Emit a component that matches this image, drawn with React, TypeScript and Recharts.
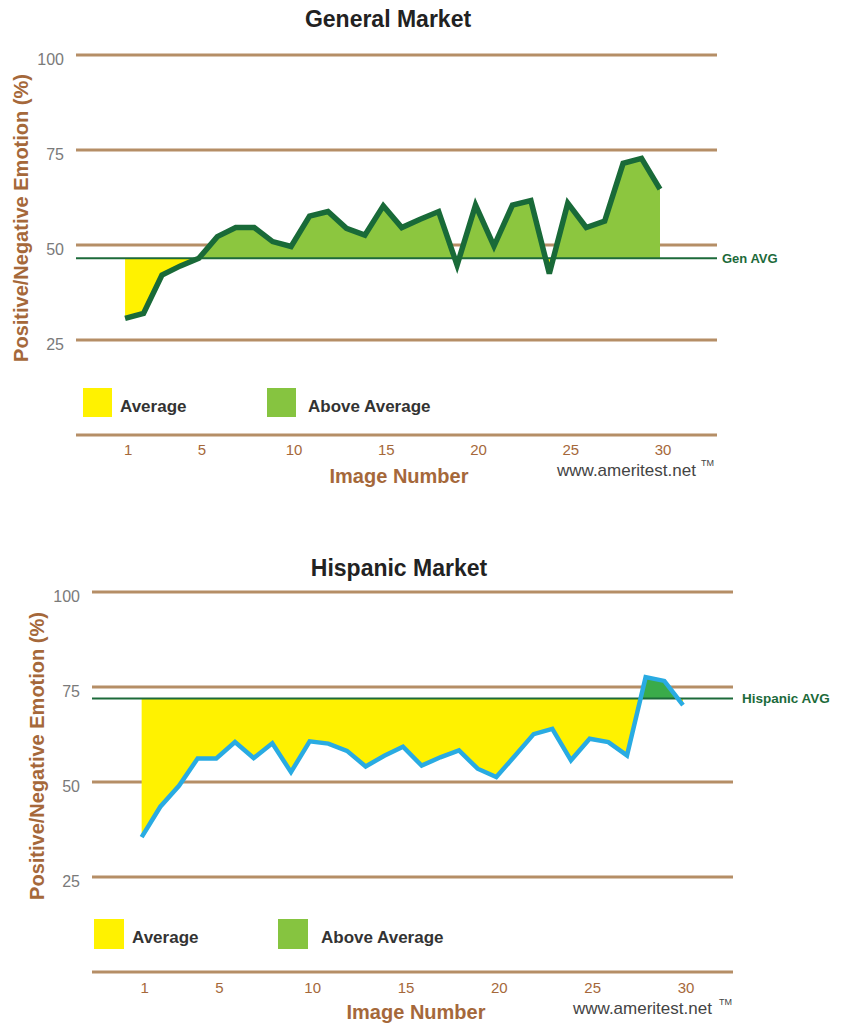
import { ComposedChart, Area, Line, XAxis, YAxis, CartesianGrid, ReferenceLine } from "recharts";

// image numbers along the x axis
const IMAGE_NUMBERS = [
  1, 2, 3, 4, 5, 6, 7, 8, 9, 10, 11, 12, 13, 14, 15,
  16, 17, 18, 19, 20, 21, 22, 23, 24, 25, 26, 27, 28, 29, 30,
];

// Positive/Negative emotion (%) per image
const GENERAL_MARKET = [
  30.7, 32.0, 42.1, 44.5, 46.5, 52.2, 54.6, 54.6, 50.9, 49.6,
  57.6, 58.8, 54.4, 52.6, 60.3, 54.6, 56.8, 58.8, 44.7, 60.5,
  49.7, 60.5, 61.7, 42.5, 61.0, 54.6, 56.3, 71.5, 72.8, 64.7,
];
const HISPANIC_MARKET = [
  35.5, 43.5, 49.0, 56.2, 56.2, 60.5, 56.3, 60.2, 52.6, 60.7,
  60.1, 58.2, 54.1, 56.9, 59.3, 54.3, 56.5, 58.3, 53.5, 51.3,
  56.9, 62.6, 64.0, 55.7, 61.4, 60.5, 57.0, 77.6, 76.6, 70.2,
];

const GEN_AVG = 46.5;
const HISPANIC_AVG = 72;

const X_TICKS = [1, 5, 10, 15, 20, 25, 30];
const Y_TICKS = [0, 25, 50, 75, 100];

const FONT = '"Liberation Sans", Arial, sans-serif';
const BROWN = "#a5683a";
const GRID = "#b58e66";
const AVG_GREEN = "#1c6a3a";
const YELLOW = "#fff200";
const LEGEND_GREEN = "#86c440";

const YTick = ({ x, y, payload }: any) => {
  if (payload.value === 0) return <g />;
  return (
    <text x={x} y={y + 4} dy="0.355em" textAnchor="end" fill="#7a7a7a" fontSize={16} fontFamily={FONT}>
      {payload.value}
    </text>
  );
};

const XTick = ({ x, y, payload }: any) => (
  <text x={x + 3} y={y} dy="0.71em" textAnchor="middle" fill={BROWN} fontSize={15} fontFamily={FONT}>
    {payload.value}
  </text>
);

const Txt = ({ x, y, center, rotate, style, children }: any) => (
  <div
    style={{
      position: "absolute",
      left: x,
      top: y,
      whiteSpace: "nowrap",
      fontFamily: FONT,
      lineHeight: 1,
      transform: `translate(${center ? "-50%" : "0"}, -50%)${rotate ? " rotate(-90deg)" : ""}`,
      ...style,
    }}
  >
    {children}
  </div>
);

const Panel = (p: any) => {
  const data = IMAGE_NUMBERS.map((n, i) => ({ n, v: p.values[i] }));
  const hi = Math.max(...p.values, p.avg);
  const lo = Math.min(...p.values, p.avg);
  const split = (hi - p.avg) / (hi - lo);
  const h = p.height;
  return (
    <div style={{ position: "absolute", left: 0, top: p.top, width: 847, height: h }}>
      <ComposedChart
        width={847}
        height={h}
        data={data}
        margin={{ top: p.plotTop, right: 847 - p.plotRight, left: 0, bottom: h - p.plotBottom - 40 }}
      >
        <defs>
          <linearGradient id={`split-${p.id}`} x1="0" y1="0" x2="0" y2="1">
            <stop offset={0} stopColor={p.aboveColor} />
            <stop offset={split} stopColor={p.aboveColor} />
            <stop offset={split} stopColor={YELLOW} />
            <stop offset={1} stopColor={YELLOW} />
          </linearGradient>
        </defs>
        <CartesianGrid vertical={false} stroke={GRID} strokeWidth={3} />
        <XAxis
          type="number"
          dataKey="n"
          domain={p.xDomain}
          ticks={X_TICKS}
          interval={0}
          allowDataOverflow
          axisLine={false}
          tickLine={false}
          tickSize={0}
          tickMargin={p.tickGap}
          tick={<XTick />}
          height={40}
        />
        <YAxis
          type="number"
          domain={[0, 100]}
          ticks={Y_TICKS}
          interval={0}
          axisLine={false}
          tickLine={false}
          tickSize={0}
          tickMargin={12}
          tick={<YTick />}
          width={p.plotLeft}
        />
        <Area
          type="linear"
          dataKey="v"
          baseValue={p.avg}
          stroke="none"
          fill={`url(#split-${p.id})`}
          fillOpacity={1}
          isAnimationActive={false}
        />
        <ReferenceLine
          y={p.avg}
          stroke={AVG_GREEN}
          strokeWidth={2}
          ifOverflow="visible"
          label={{
            value: p.avgLabel,
            position: "right",
            offset: p.labelOffset,
            fill: AVG_GREEN,
            fontSize: p.labelSize,
            fontWeight: 700,
            fontFamily: FONT,
          }}
        />
        <Line
          type="linear"
          dataKey="v"
          stroke={p.lineColor}
          strokeWidth={p.lineWidth}
          dot={false}
          activeDot={false}
          isAnimationActive={false}
        />
      </ComposedChart>
    </div>
  );
};

export default function App() {
  return (
    <div style={{ position: "absolute", left: 0, top: 0, width: 847, height: 1024, background: "#fff" }}>
      <Panel
        id="gen"
        top={0}
        height={500}
        values={GENERAL_MARKET}
        avg={GEN_AVG}
        avgLabel="Gen AVG"
        labelSize={13}
        labelOffset={5}
        lineColor="#196a38"
        lineWidth={5.5}
        aboveColor="#8cc63f"
        plotLeft={76}
        plotRight={717}
        plotTop={55}
        plotBottom={435}
        xDomain={[-1.66, 33.09]}
        tickGap={9}
      />
      <Panel
        id="his"
        top={500}
        height={524}
        values={HISPANIC_MARKET}
        avg={HISPANIC_AVG}
        avgLabel="Hispanic AVG"
        labelSize={13.5}
        labelOffset={9}
        lineColor="#29abe2"
        lineWidth={4.5}
        aboveColor="#3aab4a"
        plotLeft={92}
        plotRight={733}
        plotTop={92}
        plotBottom={472}
        xDomain={[-1.66, 32.68]}
        tickGap={10}
      />

      {/* General Market texts */}
      <Txt x={388} y={19} center style={{ fontSize: 23, fontWeight: 700, color: "#222" }}>General Market</Txt>
      <Txt x={21} y={218} center rotate style={{ fontSize: 20, fontWeight: 700, color: BROWN }}>
        Positive/Negative Emotion (%)
      </Txt>
      <div style={{ position: "absolute", left: 83, top: 388, width: 29, height: 29, background: YELLOW }} />
      <Txt x={120} y={406} style={{ fontSize: 17, fontWeight: 700, color: "#333" }}>Average</Txt>
      <div style={{ position: "absolute", left: 267, top: 388, width: 29, height: 29, background: LEGEND_GREEN }} />
      <Txt x={308} y={406} style={{ fontSize: 17, fontWeight: 700, color: "#333" }}>Above Average</Txt>
      <Txt x={399} y={476} center style={{ fontSize: 20, fontWeight: 700, color: BROWN }}>Image Number</Txt>
      <Txt x={557} y={470} style={{ fontSize: 17, color: "#444" }}>www.ameritest.net</Txt>
      <Txt x={701} y={463} style={{ fontSize: 9, color: "#444" }}>TM</Txt>

      {/* Hispanic Market texts */}
      <Txt x={399} y={568} center style={{ fontSize: 23, fontWeight: 700, color: "#222" }}>Hispanic Market</Txt>
      <Txt x={37} y={756} center rotate style={{ fontSize: 20, fontWeight: 700, color: BROWN }}>
        Positive/Negative Emotion (%)
      </Txt>
      <div style={{ position: "absolute", left: 94, top: 919, width: 30, height: 30, background: YELLOW }} />
      <Txt x={132} y={937} style={{ fontSize: 17, fontWeight: 700, color: "#333" }}>Average</Txt>
      <div style={{ position: "absolute", left: 278, top: 919, width: 30, height: 30, background: LEGEND_GREEN }} />
      <Txt x={321} y={937} style={{ fontSize: 17, fontWeight: 700, color: "#333" }}>Above Average</Txt>
      <Txt x={416} y={1012} center style={{ fontSize: 20, fontWeight: 700, color: BROWN }}>Image Number</Txt>
      <Txt x={573} y={1008} style={{ fontSize: 17, color: "#444" }}>www.ameritest.net</Txt>
      <Txt x={719} y={1002} style={{ fontSize: 9, color: "#444" }}>TM</Txt>
    </div>
  );
}
